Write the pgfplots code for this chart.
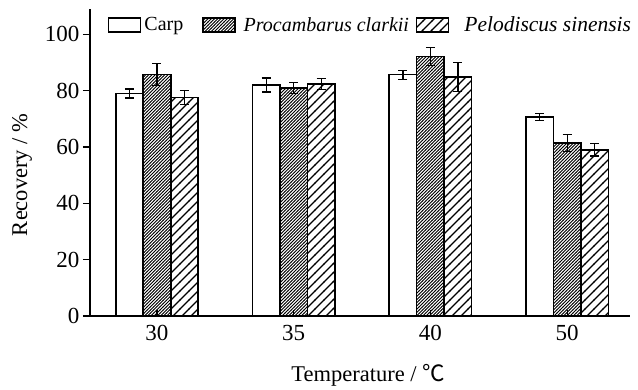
\documentclass[border=0pt]{standalone}
\usepackage{pgfplots}
\pgfplotsset{compat=1.18}
\usepackage{fontspec}
\setmainfont{Liberation Serif}
\newfontfamily\cjk{Noto Sans CJK SC}
\usetikzlibrary{patterns}

\pgfdeclarepatternformonly{densehatch}{\pgfqpoint{-1pt}{-1pt}}{\pgfqpoint{4.2pt}{4.2pt}}{\pgfqpoint{3.2pt}{3.2pt}}{%
  \pgfsetlinewidth{0.9pt}%
  \pgfpathmoveto{\pgfqpoint{-0.2pt}{-0.2pt}}%
  \pgfpathlineto{\pgfqpoint{3.4pt}{3.4pt}}%
  \pgfusepath{stroke}}
\pgfdeclarepatternformonly{sparsehatch}{\pgfqpoint{-1pt}{-1pt}}{\pgfqpoint{10pt}{10pt}}{\pgfqpoint{9pt}{9pt}}{%
  \pgfsetlinewidth{1.1pt}%
  \pgfpathmoveto{\pgfqpoint{-0.3pt}{-0.3pt}}%
  \pgfpathlineto{\pgfqpoint{9.3pt}{9.3pt}}%
  \pgfusepath{stroke}}

\begin{document}
\begin{tikzpicture}
\begin{axis}[
  scale only axis, width=540pt, height=307pt,
  xmin=-0.49, xmax=3.46, ymin=0, ymax=109,
  axis x line=bottom, axis y line=left,
  axis line style={-, line width=1.2pt},
  ybar=0pt, bar width=27.5pt,
  xtick={0,1,2,3}, xticklabels={30,35,40,50},
  ytick={0,20,...,100},
  tick style={black, line width=1.2pt},
  major tick length=7pt, tick align=outside,
  x tick style={yshift=6pt},
  ticklabel style={font=\fontsize{23}{27}\selectfont},
  xticklabel style={yshift=1pt},
  /pgf/number format/assume math mode=true,
  label style={font=\fontsize{22.5}{27}\selectfont},
  xlabel={Temperature / {\cjk ℃}},
  ylabel={Recovery / \%},
  xlabel style={at={(axis description cs:0.515,-0.192)}, anchor=center},
  ylabel style={at={(axis description cs:-0.126,0.46)}, anchor=center},
  legend columns=3,
  legend style={at={(axis description cs:0.033,0.948)}, anchor=west,
    draw=none, fill=none, inner sep=0pt,
    font=\fontsize{20}{24}\selectfont,
    /tikz/column 1/.style={column sep=1pt},
    /tikz/column 2/.style={column sep=17pt},
    /tikz/column 3/.style={column sep=6pt},
    /tikz/column 4/.style={column sep=5pt},
    /tikz/column 5/.style={column sep=13pt}},
  legend cell align=left,
  error bars/y dir=both, error bars/y explicit,
  error bars/error bar style={line width=1.2pt, black},
  error bars/error mark options={rotate=90, mark size=4.5pt, line width=1.2pt, black},
  mylegend/.style={legend image code/.code={\draw[##1, line width=1.4pt] (0pt,-7pt) rectangle (32pt,7pt);}},
]
\addplot[draw=black, line width=1.6pt, fill=white, mylegend]
  coordinates {(0,79.0) +- (0,1.6) (1,82.0) +- (0,2.5) (2,85.7) +- (0,1.6) (3,70.6) +- (0,1.2)};
\addlegendentry{Carp}
\addplot[draw=black, line width=1.6pt, pattern=densehatch, pattern color=black, mylegend]
  coordinates {(0,85.7) +- (0,4.0) (1,80.9) +- (0,2.0) (2,92.1) +- (0,3.3) (3,61.4) +- (0,3.0)};
\addlegendentry{\textit{Procambarus clarkii}}
\addplot[draw=black, line width=1.6pt, pattern=sparsehatch, pattern color=black, mylegend]
  coordinates {(0,77.6) +- (0,2.6) (1,82.4) +- (0,2.0) (2,84.8) +- (0,5.2) (3,59.0) +- (0,2.2)};
\addlegendentry{\fontsize{21.5}{24}\selectfont\textit{Pelodiscus sinensis}}
\end{axis}
\path[use as bounding box] ([xshift=-90pt,yshift=-74pt]current axis.south west) rectangle ([xshift=548pt,yshift=316pt]current axis.south west);
\end{tikzpicture}
\end{document}
